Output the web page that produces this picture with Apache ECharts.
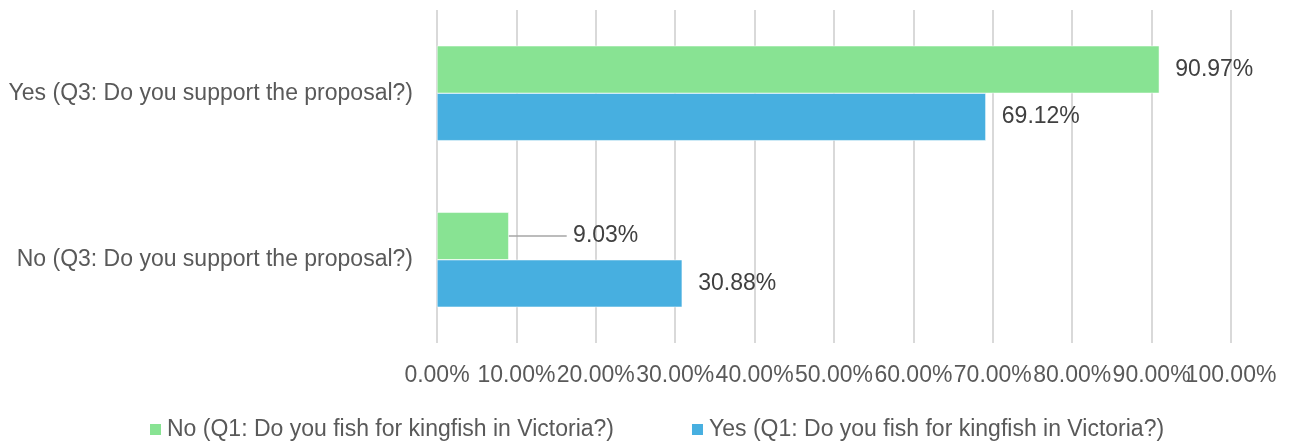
<!DOCTYPE html>
<html>
<head>
<meta charset="utf-8">
<script src="https://cdn.jsdelivr.net/npm/echarts@6/dist/echarts.min.js"></script>
<style>
html,body{margin:0;padding:0;background:#fff;}
#c{width:1298px;height:444px;}
</style>
</head>
<body>
<div id="c"></div>
<script>
const categories = ['No (Q3: Do you support the proposal?)', 'Yes (Q3: Do you support the proposal?)'];
const seriesNames = ['No (Q1: Do you fish for kingfish in Victoria?)', 'Yes (Q1: Do you fish for kingfish in Victoria?)'];
const noQ1Values = [9.03, 90.97];
const yesQ1Values = [30.88, 69.12];
const xTicks = [0, 10, 20, 30, 40, 50, 60, 70, 80, 90, 100];

const FONT = '"Liberation Sans", Arial, sans-serif';
const chart = echarts.init(document.getElementById('c'), null, {renderer: 'canvas'});

const labelCommon = {
  show: true,
  position: 'right',
  distance: 16,
  color: '#404040',
  fontSize: 23,
  fontFamily: FONT,
  formatter: p => p.value.toFixed(2) + '%'
};

// Two overlaid value axes so that every tick label is drawn even though neighbours touch
function makeXAxis(parity, showGrid) {
  return {
    type: 'value',
    gridIndex: 0,
    position: 'bottom',
    min: xTicks[0],
    max: xTicks[xTicks.length - 1],
    interval: 10,
    axisLine: {show: false},
    axisTick: {show: false},
    splitLine: {show: showGrid, lineStyle: {color: '#D9D9D9', width: 2}},
    axisLabel: {
      color: '#595959', fontSize: 23, fontFamily: FONT, margin: 21,
      hideOverlap: false,
      formatter: v => (Math.round(v / 10) % 2 === parity) ? v.toFixed(2) + '%' : ''
    }
  };
}

chart.setOption({
  animation: false,
  textStyle: {fontFamily: FONT},
  grid: {left: 437, right: 67, top: 10, bottom: 101, containLabel: false},
  legend: {
    data: seriesNames,
    bottom: 0,
    left: 143,
    padding: [5, 5, 3, 5],
    icon: 'rect',
    itemWidth: 13,
    itemHeight: 13,
    itemGap: 76,
    textStyle: {color: '#595959', fontSize: 23, fontFamily: FONT}
  },
  xAxis: [makeXAxis(0, true), makeXAxis(1, false)],
  yAxis: {
    type: 'category',
    data: categories,
    axisLine: {show: false},
    axisTick: {show: false},
    axisLabel: {color: '#595959', fontSize: 23, fontFamily: FONT, margin: 24}
  },
  series: [
    {
      name: seriesNames[0],
      type: 'bar',
      xAxisIndex: 0,
      data: noQ1Values.map((v, i) => i === 0 ? {
        value: v,
        label: {formatter: p => '\u00a0' + p.value.toFixed(2) + '%'},
        labelLine: {show: true, lineStyle: {color: '#A6A6A6', width: 1.5}}
      } : v),
      barGap: '0%',
      barCategoryGap: '43%',
      itemStyle: {color: '#88E393', borderColor: '#fff', borderWidth: 0.5},
      label: labelCommon,
      labelLayout: p => p.dataIndex === 0 ? {dx: 42} : {},
      labelLine: {show: false}
    },
    {
      name: seriesNames[1],
      type: 'bar',
      xAxisIndex: 0,
      data: yesQ1Values,
      barGap: '0%',
      barCategoryGap: '43%',
      itemStyle: {color: '#47AFE0', borderColor: '#fff', borderWidth: 0.5},
      label: labelCommon
    }
  ]
});
</script>
</body>
</html>
